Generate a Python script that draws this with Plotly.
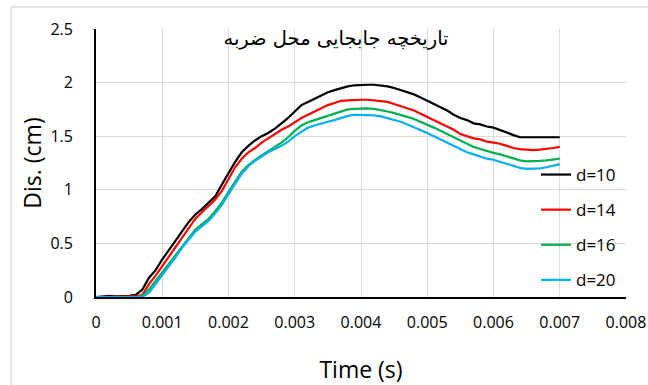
import plotly.graph_objects as go

# time (s)
time_s = [0.0000, 0.0001, 0.0002, 0.0003, 0.0004, 0.0005, 0.0006, 0.0007, 0.0008, 0.0009,
          0.0010, 0.0011, 0.0012, 0.0013, 0.0014, 0.0015, 0.0016, 0.0017, 0.0018, 0.0019,
          0.0020, 0.0021, 0.0022, 0.0023, 0.0024, 0.0025, 0.0026, 0.0027, 0.0028, 0.0029,
          0.0030, 0.0031, 0.0032, 0.0033, 0.0034, 0.0035, 0.0036, 0.0037, 0.0038, 0.0039,
          0.0040, 0.0041, 0.0042, 0.0043, 0.0044, 0.0045, 0.0046, 0.0047, 0.0048, 0.0049,
          0.0050, 0.0051, 0.0052, 0.0053, 0.0054, 0.0055, 0.0056, 0.0057, 0.0058, 0.0059,
          0.0060, 0.0061, 0.0062, 0.0063, 0.0064, 0.0065, 0.0066, 0.0067, 0.0068, 0.0069,
          0.0070]

dis_d10 = [0.0, 0.005, 0.01, 0.005, 0.005, 0.01, 0.02, 0.07, 0.18, 0.25,
           0.35, 0.44, 0.53, 0.62, 0.70, 0.77, 0.82, 0.88, 0.94, 1.05,
           1.16, 1.26, 1.35, 1.41, 1.46, 1.50, 1.53, 1.57, 1.62, 1.67,
           1.73, 1.79, 1.82, 1.85, 1.88, 1.91, 1.93, 1.95, 1.965, 1.975,
           1.98, 1.98, 1.98, 1.975, 1.965, 1.95, 1.93, 1.91, 1.89, 1.86,
           1.83, 1.80, 1.77, 1.74, 1.70, 1.67, 1.65, 1.62, 1.61, 1.59,
           1.58, 1.56, 1.535, 1.51, 1.49, 1.49, 1.49, 1.49, 1.49, 1.49,
           1.49]

dis_d14 = [0.0, 0.0, 0.005, 0.0, 0.0, 0.005, 0.005, 0.02, 0.12, 0.20,
           0.29, 0.38, 0.47, 0.56, 0.65, 0.73, 0.79, 0.85, 0.91, 0.99,
           1.10, 1.21, 1.29, 1.35, 1.39, 1.44, 1.48, 1.52, 1.56, 1.59,
           1.63, 1.67, 1.70, 1.73, 1.76, 1.79, 1.81, 1.83, 1.835, 1.84,
           1.84, 1.84, 1.835, 1.83, 1.82, 1.80, 1.78, 1.76, 1.74, 1.71,
           1.68, 1.65, 1.62, 1.59, 1.56, 1.52, 1.50, 1.48, 1.47, 1.45,
           1.44, 1.43, 1.41, 1.39, 1.38, 1.375, 1.37, 1.375, 1.38, 1.39,
           1.40]

dis_d16 = [0.0, 0.0, 0.0, 0.0, 0.0, 0.0, 0.0, 0.01, 0.07, 0.15,
           0.23, 0.31, 0.40, 0.48, 0.56, 0.63, 0.68, 0.73, 0.80, 0.88,
           0.98, 1.08, 1.17, 1.23, 1.28, 1.32, 1.36, 1.40, 1.44, 1.49,
           1.55, 1.60, 1.63, 1.65, 1.67, 1.69, 1.71, 1.73, 1.75, 1.755,
           1.76, 1.76, 1.755, 1.745, 1.73, 1.715, 1.70, 1.68, 1.66, 1.635,
           1.61, 1.58, 1.55, 1.52, 1.49, 1.46, 1.43, 1.40, 1.38, 1.36,
           1.345, 1.33, 1.31, 1.29, 1.275, 1.265, 1.265, 1.27, 1.275, 1.28,
           1.29]

dis_d20 = [0.0, 0.0, 0.0, 0.0, 0.0, 0.0, 0.0, 0.0, 0.04, 0.12,
           0.20, 0.29, 0.37, 0.46, 0.54, 0.61, 0.66, 0.71, 0.78, 0.86,
           0.96, 1.06, 1.15, 1.22, 1.27, 1.31, 1.35, 1.38, 1.41, 1.45,
           1.50, 1.54, 1.58, 1.60, 1.62, 1.635, 1.65, 1.67, 1.69, 1.70,
           1.70, 1.70, 1.695, 1.685, 1.67, 1.655, 1.635, 1.61, 1.585, 1.56,
           1.53, 1.50, 1.47, 1.44, 1.41, 1.38, 1.35, 1.33, 1.31, 1.29,
           1.28, 1.26, 1.24, 1.22, 1.205, 1.195, 1.195, 1.20, 1.21, 1.225,
           1.24]

series_names = ["d=10", "d=14", "d=16", "d=20"]
series_values = [dis_d10, dis_d14, dis_d16, dis_d20]
series_colors = ["#000000", "#FF0000", "#00B050", "#00B0F0"]

x_tickvals = [0, 0.001, 0.002, 0.003, 0.004, 0.005, 0.006, 0.007, 0.008]
x_ticktext = ["0", "0.001", "0.002", "0.003", "0.004", "0.005", "0.006", "0.007", "0.008"]
y_tickvals = [0, 0.5, 1, 1.5, 2, 2.5]
y_ticktext = ["0", "0.5", "1", "1.5", "2", "2.5"]

title_text = "تاریخچه جابجایی محل ضربه"

FONT = "Open Sans"

fig = go.Figure()
for name, vals, col in zip(series_names, series_values, series_colors):
    fig.add_trace(go.Scatter(x=time_s, y=vals, mode="lines", name=name,
                             legendgroup=name,
                             line=dict(color=col, width=2.2)))

ML, MR, MT, MB = 96, 22, 29, 88
W, H = 648, 385
pw = W - ML - MR
ph = H - MT - MB

fig.update_layout(
    width=W, height=H,
    margin=dict(l=ML, r=MR, t=MT, b=MB),
    paper_bgcolor="white", plot_bgcolor="white",
    font=dict(family=FONT, color="#000000"),
    title=dict(text=title_text, font=dict(family="DejaVu Sans", size=19.5, color="#000000"),
               x=(336 - ML) / pw, xref="paper", xanchor="center",
               y=1 - 38 / H, yref="container", yanchor="middle"),
    showlegend=True,
    legend=dict(x=(536 - ML) / pw, xanchor="left",
                y=(H - MB - 227.5) / ph, yanchor="middle",
                bgcolor="rgba(0,0,0,0)", borderwidth=0,
                font=dict(family=FONT, size=17, color="#000000"),
                tracegroupgap=10),
    xaxis=dict(range=[0, 0.008], tickvals=x_tickvals, ticktext=x_ticktext,
               showgrid=True, gridcolor="#D9D9D9", gridwidth=1.3,
               showline=True, linecolor="#000000", linewidth=1.8,
               zeroline=False, ticks="outside", ticklen=10, tickcolor="rgba(0,0,0,0)",
               tickfont=dict(family=FONT, size=16, color="#000000"),
               title=dict(text="Time (s)", font=dict(family=FONT, size=23, color="#000000"),
                          standoff=36),
               automargin=False),
    yaxis=dict(range=[0, 2.5], tickvals=y_tickvals, ticktext=y_ticktext,
               showgrid=True, gridcolor="#D9D9D9", gridwidth=1.3,
               showline=True, linecolor="#000000", linewidth=1.8,
               zeroline=False, ticks="outside", ticklen=18, tickcolor="rgba(0,0,0,0)",
               tickfont=dict(family=FONT, size=16, color="#000000"),
               title=dict(text="Dis. (cm)", font=dict(family=FONT, size=23, color="#000000"),
                          standoff=2),
               automargin=False),
)

# outer chart border (light grey frame)
fig.add_shape(type="rect", xref="paper", yref="paper",
              x0=(11 - ML) / pw, x1=(W + 20 - ML) / pw,
              y0=(H - MB - (H + 20)) / ph, y1=(H - MB - 7) / ph,
              line=dict(color="#D9D9D9", width=1.3), fillcolor="rgba(0,0,0,0)",
              layer="below")

fig.write_html("out.html")
